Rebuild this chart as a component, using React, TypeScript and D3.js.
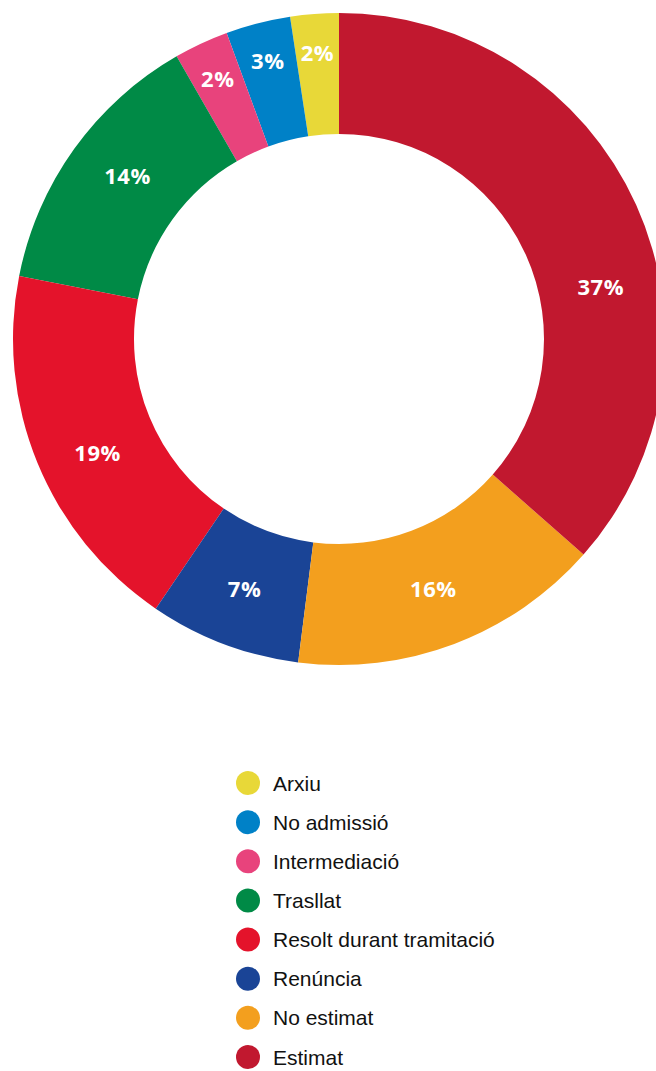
import { useEffect } from "react";
import * as d3 from "d3";

// legend order (top to bottom); the pie runs the other way round from 12 o'clock
const categories = [
  "Arxiu",
  "No admissió",
  "Intermediació",
  "Trasllat",
  "Resolt durant tramitació",
  "Renúncia",
  "No estimat",
  "Estimat",
];
const shares = [2.4, 3.2, 2.7, 13.6, 18.6, 7.5, 15.5, 36.5];
const shareLabels = ["2%", "3%", "2%", "14%", "19%", "7%", "16%", "37%"];
const colors = [
  "#E8D838",
  "#0081C7",
  "#E8437C",
  "#008A46",
  "#E4132B",
  "#1A4496",
  "#F39F1E",
  "#C1182F",
];

const width = 656;
const height = 1071;
const cx = 339;
const cy = 339;
const outerR = 326;
const innerR = 205;

// label angle tweaks (degrees) used by the original layout
const labelNudge: Record<string, number> = {
  Estimat: 13,
  "Resolt durant tramitació": -3,
  Trasllat: 2,
};

type Slice = { name: string; value: number; label: string; color: string };

const App = () => {
  useEffect(() => {
    document.body.style.margin = "0";
  }, []);

  const rows: Slice[] = categories.map((name, i) => ({
    name,
    value: shares[i],
    label: shareLabels[i],
    color: colors[i],
  }));

  const pie = d3
    .pie<Slice>()
    .sort(null)
    .value((d) => d.value)
    .startAngle(2 * Math.PI)
    .endAngle(0);
  const arcs = pie(rows);

  const arc = d3.arc<d3.PieArcDatum<Slice>>().innerRadius(innerR).outerRadius(outerR);

  const labelPos = (a: d3.PieArcDatum<Slice>) => {
    const nudge = ((labelNudge[a.data.name] ?? 0) * Math.PI) / 180;
    const mid = (a.startAngle + a.endAngle) / 2 + nudge;
    // thin slices get their label pushed outward where the wedge is wider
    const small = Math.abs(a.endAngle - a.startAngle) < 0.3;
    const r = (innerR + outerR) / 2 + (small ? 21 : 1.5);
    return [r * Math.sin(mid), -r * Math.cos(mid)];
  };

  const legendY = d3
    .scalePoint<string>()
    .domain(categories)
    .range([783, 1057]);

  return (
    <svg width={width} height={height} style={{ display: "block" }}>
      <g transform={`translate(${cx},${cy})`}>
        {arcs.map((a) => (
          <path key={a.data.name} d={arc(a) ?? ""} fill={a.data.color} />
        ))}
        {arcs.map((a) => {
          const [x, y] = labelPos(a);
          return (
            <text
              key={a.data.name + "-l"}
              x={x}
              y={y}
              dy="0.36em"
              textAnchor="middle"
              fill="#fff"
              fontFamily="'Open Sans', sans-serif"
              fontWeight={700}
              fontSize={22}
              letterSpacing={0.6}
            >
              {a.data.label}
            </text>
          );
        })}
      </g>
      <g>
        {rows.map((d) => (
          <g key={d.name} transform={`translate(248,${legendY(d.name)})`}>
            <circle r={12} fill={d.color} />
            <text
              x={25}
              y={7.6}
              fill="#111"
              fontFamily="'Liberation Sans', Arial, sans-serif"
              fontSize={21}
            >
              {d.name}
            </text>
          </g>
        ))}
      </g>
    </svg>
  );
};

export default App;
